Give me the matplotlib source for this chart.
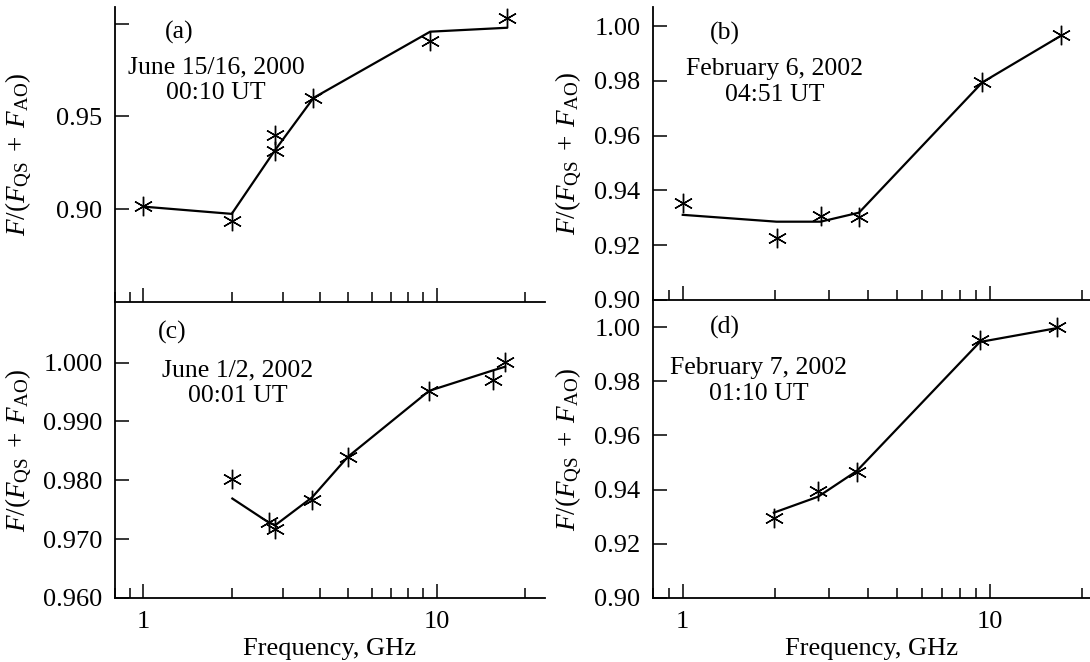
import matplotlib.pyplot as plt
import matplotlib.ticker as mticker

plt.rcParams['font.family'] = ['Liberation Serif', 'DejaVu Serif']
plt.rcParams['mathtext.fontset'] = 'custom'
plt.rcParams['mathtext.rm'] = 'Liberation Serif'
plt.rcParams['mathtext.it'] = 'Liberation Serif:italic'
plt.rcParams['font.size'] = 18

# (a) June 15/16, 2000
freq_a = [1.0, 2.0, 2.8, 2.8, 3.8, 9.5, 17.3]
obs_a = [0.9016, 0.8935, 0.9398, 0.9315, 0.9602, 0.9906, 1.0032]
mfreq_a = [1.0, 2.0, 2.8, 3.8, 9.5, 17.3]
model_a = [0.9014, 0.8975, 0.9315, 0.9600, 0.9957, 0.9978]

# (b) February 6, 2002
freq_b = [1.0, 2.02, 2.81, 3.75, 9.46, 17.1]
obs_b = [0.9355, 0.9227, 0.9306, 0.9303, 0.9795, 0.9966]
model_b = [0.9311, 0.9286, 0.9286, 0.9319, 0.9795, 0.9966]

# (c) June 1/2, 2002
freq_c = [2.01, 2.68, 2.82, 3.76, 4.98, 9.42, 15.6, 17.1]
obs_c = [0.9803, 0.9729, 0.9717, 0.9767, 0.9839, 0.9951, 0.9971, 1.0001]
model_c = [0.9769, 0.9728, 0.9724, 0.9771, 0.9840, 0.9952, 0.9987, 0.9993]

# (d) February 7, 2002
freq_d = [1.98, 2.76, 3.69, 9.28, 16.5]
obs_d = [0.9294, 0.9395, 0.9466, 0.9953, 1.0000]
model_d = [0.9315, 0.9374, 0.9469, 0.9945, 0.9996]

W, H = 1090, 662
fig = plt.figure(figsize=(W / 100, H / 100), dpi=100)


def px_axes(l, t, r, b):
    return fig.add_axes([l / W, 1 - b / H, (r - l) / W, (b - t) / H])


ax_a = px_axes(115, 7, 545, 302)
ax_b = px_axes(653, 7, 1090, 300)
ax_c = px_axes(115, 302, 545, 598)
ax_d = px_axes(653, 300, 1090, 598)

panels = [
    (ax_a, freq_a, obs_a, mfreq_a, model_a),
    (ax_b, freq_b, obs_b, freq_b, model_b),
    (ax_c, freq_c, obs_c, freq_c, model_c),
    (ax_d, freq_d, obs_d, freq_d, model_d),
]

for ax, fx, fy, mx, my in panels:
    ax.plot(mx, my, color='black', lw=1.6, zorder=2)
    ax.plot(fx, fy, ls='none', marker=(6, 2, 0), ms=14, mew=1.0,
            color='black', zorder=3)
    ax.set_xscale('log')
    ax.spines['top'].set_visible(False)
    ax.spines['right'].set_visible(False)
    for s in ('left', 'bottom'):
        ax.spines[s].set_linewidth(1.3)
    ax.patch.set_alpha(0)
    ax.xaxis.set_major_locator(mticker.FixedLocator([1, 10]))
    ax.xaxis.set_minor_locator(mticker.LogLocator(base=10, subs=range(2, 10)))
    ax.xaxis.set_major_formatter(mticker.FixedFormatter(['1', '10']))
    ax.xaxis.set_minor_formatter(mticker.NullFormatter())
    ax.tick_params(which='major', direction='in', length=10, width=1.1,
                   labelsize=19, pad=9)
    ax.tick_params(which='minor', direction='in', length=7, width=1.1)
    ax.set_ylabel(r'$F/(F_{\rm QS}\;+\;F_{\rm AO})$', fontsize=19.5)

ax_a.set_xlim(0.8, 23.4)
ax_c.set_xlim(0.8, 23.4)
ax_b.set_xlim(0.8, 21.2)
ax_d.set_xlim(0.8, 21.2)

ax_a.set_ylim(0.85, 1.009)
ax_a.set_yticks([0.90, 0.95, 1.00])
ax_a.set_yticklabels(['0.90', '0.95', ''])
ax_b.set_ylim(0.90, 1.007)
ax_b.set_yticks([0.90, 0.92, 0.94, 0.96, 0.98, 1.00])
ax_b.set_yticklabels(['0.90', '0.92', '0.94', '0.96', '0.98', '1.00'])
ax_c.set_ylim(0.96, 1.0103)
ax_c.set_yticks([0.96, 0.97, 0.98, 0.99, 1.00])
ax_c.set_yticklabels(['0.960', '0.970', '0.980', '0.990', '1.000'])
ax_d.set_ylim(0.90, 1.01)
ax_d.set_yticks([0.90, 0.92, 0.94, 0.96, 0.98, 1.00])
ax_d.set_yticklabels(['0.90', '0.92', '0.94', '0.96', '0.98', '1.00'])

for ax in (ax_a, ax_b):
    ax.tick_params(axis='x', labelbottom=False)
for ax in (ax_c, ax_d):
    ax.set_xlabel('Frequency, GHz', fontsize=19, labelpad=4)

ax_a.yaxis.set_label_coords(-0.185, 0.5)
ax_c.yaxis.set_label_coords(-0.185, 0.5)
ax_b.yaxis.set_label_coords(-0.155, 0.5)
ax_d.yaxis.set_label_coords(-0.155, 0.5)


def ftext(x, y, s):
    fig.text(x / W, 1 - y / H, s, ha='center', va='center', fontsize=18.5,
             linespacing=1.2)


ftext(179, 32, '(a)')
ftext(216, 80, 'June 15/16, 2000\n00:10 UT')
ftext(725, 33, '(b)')
ftext(775, 82, 'February 6, 2002\n04:51 UT')
ftext(172, 332, '(c)')
ftext(238, 383, 'June 1/2, 2002\n00:01 UT')
ftext(725, 327, '(d)')
ftext(759, 381, 'February 7, 2002\n01:10 UT')

fig.savefig('out.png', dpi=100)
